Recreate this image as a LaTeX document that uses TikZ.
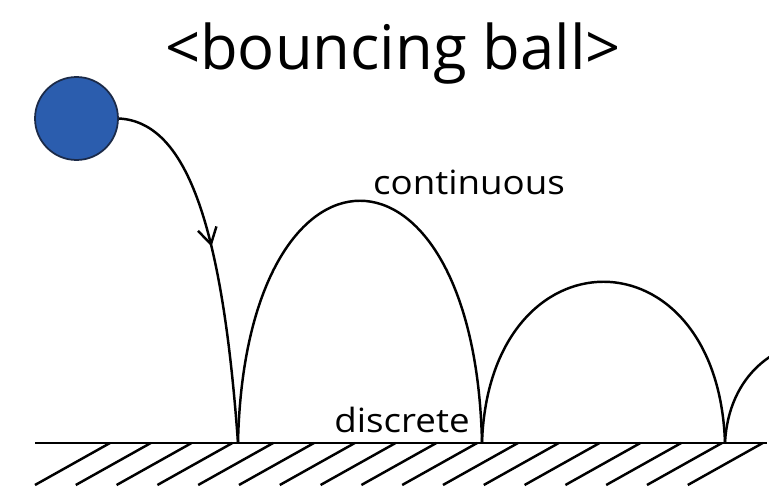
\documentclass[tikz,border=0pt]{standalone}
\usepackage{fontspec}
\setmainfont{Open Sans}
\newfontfamily\labelfont{Open Sans}[FakeStretch=1.1]
\usetikzlibrary{arrows.meta,decorations.markings}
\definecolor{Ball}{HTML}{2B5DAE}
\definecolor{BallEdge}{HTML}{1B2A48}
\tikzset{
 track/.style={line width=1.4pt,draw=black},
 fall/.style={postaction={decorate},decoration={markings,
   mark=at position .46 with {\arrow{Straight Barb[length=3.2mm,width=3.8mm,line width=1.4pt]}}}},
 ground/.style={line width=1.5pt,draw=black},
 hatch/.style={line width=1.4pt,draw=black},
 ball/.style={circle,fill=Ball,draw=BallEdge,line width=1pt,minimum size=1.66cm,inner sep=0pt},
 lbl/.style={anchor=base,inner sep=0pt,font=\labelfont\fontsize{19}{21}\selectfont},
}

\begin{document}
\begin{tikzpicture}[x=0.02cm,y=-0.02cm]
 \useasboundingbox (0,0) rectangle (769,493);
 \clip (0,0) rectangle (769,493);
 \node[anchor=base,inner sep=0pt,font=\fontsize{35}{38}\selectfont] (title) at (393,70) {<bouncing ball>};
 % ground
 \coordinate (gl) at (35,443); \coordinate (gr) at (767,443);
 \draw[ground] (gl) -- (gr);
 \foreach \i in {0,...,16}
  \draw[hatch] ({110+40.8*\i},443) -- ++(-75,42);
 % bounce points
 \coordinate (hit1) at (238,443);
 \coordinate (hit2) at (482,443);
 \coordinate (hit3) at (725,443);
 \coordinate (hit4) at (925,443);
 \node[ball] (ball) at (76.5,118.5) {};
 \draw[track,fall] (ball.east) .. controls (185,122) and (222,220) .. (hit1);
 \draw[track] (hit1) .. controls (245,120) and (475,120) .. (hit2);
 \draw[track] (hit2) .. controls (489,228) and (718,228) .. (hit3);
 \draw[track] (hit3) .. controls (732,306) and (918,306) .. (hit4);
 \node[lbl] (cont) at (469,195) {continuous};
 \node[lbl] (disc) at (402,433) {discrete};
\end{tikzpicture}
\end{document}
